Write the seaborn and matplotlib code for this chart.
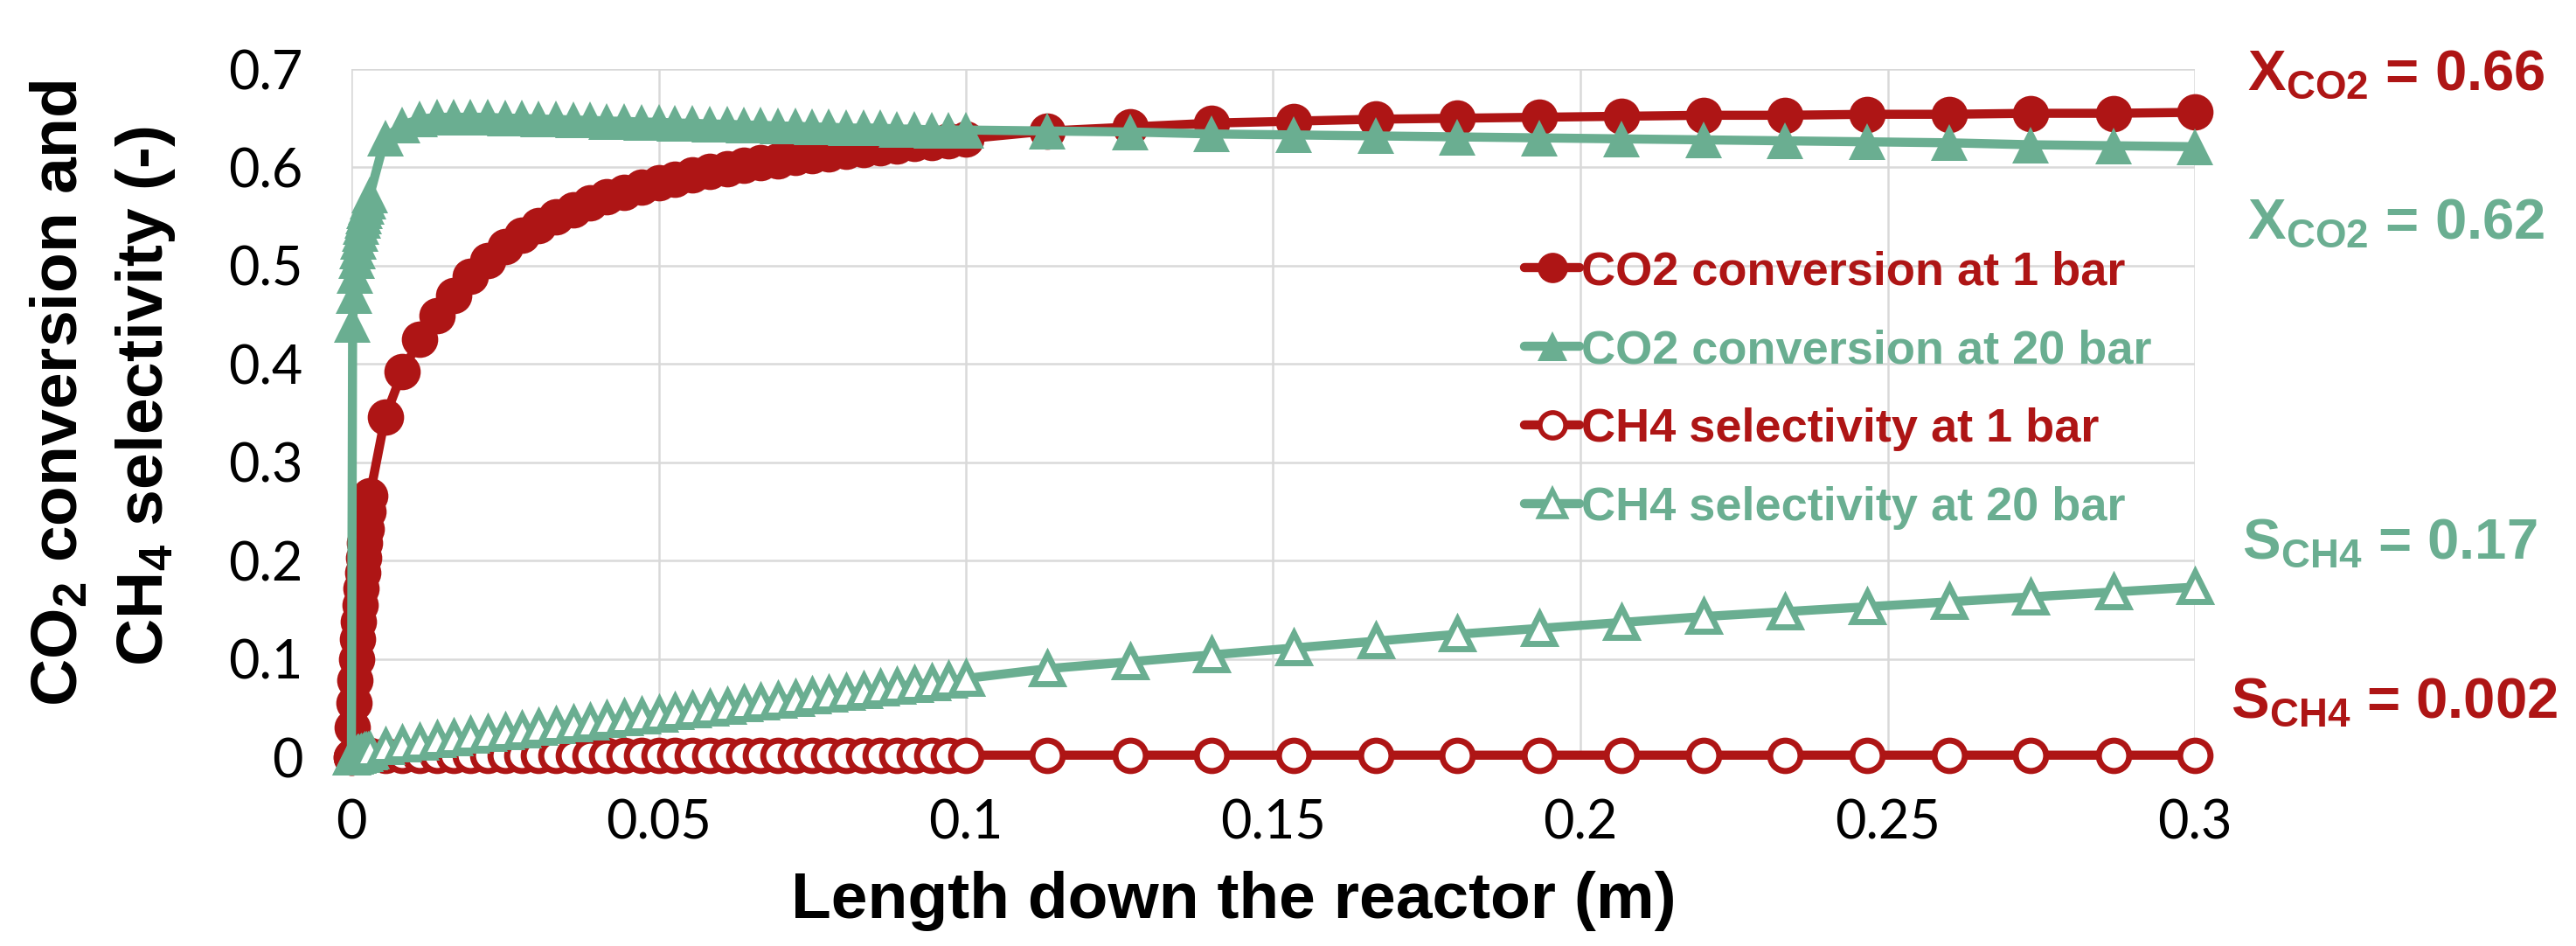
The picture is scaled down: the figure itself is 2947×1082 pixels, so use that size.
import matplotlib
matplotlib.use("Agg")
import matplotlib.pyplot as plt
import seaborn as sns
from matplotlib.lines import Line2D

# ---------------- data ----------------
# reactor length grid (m): very fine near the inlet, then two uniform segments
x_fine = [0.0000, 0.0002, 0.0004, 0.0006, 0.0008, 0.0010, 0.0012, 0.0014,
          0.0016, 0.0018, 0.0020, 0.0022, 0.0024, 0.0027, 0.0030]
x_mid = [0.0055, 0.0083, 0.0111, 0.0139, 0.0166, 0.0194, 0.0222, 0.0250,
         0.0277, 0.0305, 0.0333, 0.0361, 0.0388, 0.0416, 0.0444, 0.0472,
         0.0500, 0.0527, 0.0555, 0.0583, 0.0611, 0.0638, 0.0666, 0.0694,
         0.0722, 0.0750, 0.0777, 0.0805, 0.0833, 0.0861, 0.0888, 0.0916,
         0.0944, 0.0972, 0.1000]
x_coarse = [0.1133, 0.1267, 0.1400, 0.1533, 0.1667, 0.1800, 0.1933, 0.2067,
            0.2200, 0.2333, 0.2467, 0.2600, 0.2733, 0.2867, 0.3000]
length_m = x_fine + x_mid + x_coarse

# CO2 conversion at 1 bar
conv_1bar = ([0.000, 0.030, 0.055, 0.078, 0.100, 0.120, 0.138, 0.155, 0.172,
              0.188, 0.203, 0.218, 0.232, 0.250, 0.266]
             + [0.346, 0.392, 0.425, 0.449, 0.470, 0.489, 0.505, 0.519, 0.531,
                0.541, 0.550, 0.557, 0.564, 0.570, 0.575, 0.580, 0.584, 0.588,
                0.592, 0.596, 0.599, 0.602, 0.605, 0.607, 0.610, 0.612, 0.614,
                0.616, 0.618, 0.620, 0.622, 0.624, 0.625, 0.627, 0.629]
             + [0.637, 0.641, 0.645, 0.647, 0.649, 0.650, 0.651, 0.652, 0.653,
                0.653, 0.654, 0.654, 0.655, 0.655, 0.656])

# CO2 conversion at 20 bar
conv_20bar = ([0.000, 0.440, 0.470, 0.490, 0.505, 0.515, 0.525, 0.533, 0.540,
               0.546, 0.551, 0.556, 0.560, 0.566, 0.572]
              + [0.630, 0.643, 0.649, 0.651, 0.651, 0.651, 0.651, 0.650, 0.650,
                 0.649, 0.649, 0.648, 0.648, 0.647, 0.647, 0.646, 0.646, 0.645,
                 0.645, 0.644, 0.644, 0.643, 0.643, 0.642, 0.642, 0.641, 0.641,
                 0.640, 0.640, 0.640, 0.639, 0.639, 0.638, 0.638, 0.638]
              + [0.637, 0.636, 0.634, 0.633, 0.632, 0.631, 0.630, 0.629, 0.628,
                 0.627, 0.626, 0.625, 0.623, 0.622, 0.621])

# CH4 selectivity at 1 bar
sel_1bar = ([0.000, 0.001, 0.001, 0.001, 0.001, 0.001, 0.001, 0.001, 0.001,
             0.001, 0.002, 0.002, 0.002, 0.002, 0.002]
            + [0.002] * 35
            + [0.002] * 15)

# CH4 selectivity at 20 bar
sel_20bar = ([0.000, 0.001, 0.001, 0.002, 0.002, 0.003, 0.003, 0.003, 0.004,
              0.004, 0.004, 0.005, 0.005, 0.005, 0.006]
             + [0.011, 0.013, 0.015, 0.018, 0.020, 0.022, 0.024, 0.026, 0.028,
                0.030, 0.032, 0.034, 0.036, 0.038, 0.040, 0.042, 0.044, 0.046,
                0.048, 0.050, 0.052, 0.054, 0.056, 0.058, 0.060, 0.062, 0.064,
                0.066, 0.068, 0.070, 0.072, 0.074, 0.076, 0.078, 0.080]
             + [0.090, 0.097, 0.104, 0.111, 0.118, 0.125, 0.131, 0.137, 0.143,
                0.148, 0.153, 0.158, 0.163, 0.168, 0.173])

series_labels = ["CO2 conversion at 1 bar", "CO2 conversion at 20 bar",
                 "CH4 selectivity at 1 bar", "CH4 selectivity at 20 bar"]
x_ticks = [0, 0.05, 0.1, 0.15, 0.2, 0.25, 0.3]
x_tick_labels = ["0", "0.05", "0.1", "0.15", "0.2", "0.25", "0.3"]
y_ticks = [0, 0.1, 0.2, 0.3, 0.4, 0.5, 0.6, 0.7]
y_tick_labels = ["0", "0.1", "0.2", "0.3", "0.4", "0.5", "0.6", "0.7"]
end_labels = [r"X$_{CO2}$ = 0.66", r"X$_{CO2}$ = 0.62",
              r"S$_{CH4}$ = 0.17", r"S$_{CH4}$ = 0.002"]

# ---------------- style ----------------
RED = "#AE1515"
GREEN = "#6AAE91"
GRID = "#D9D9D9"
BOLD_FONT = "Liberation Sans"

sns.set_theme(style="white")
plt.rcParams["font.family"] = ["Lato", "DejaVu Sans"]
plt.rcParams["mathtext.fontset"] = "custom"
plt.rcParams["mathtext.rm"] = "Liberation Sans"
plt.rcParams["mathtext.bf"] = "Liberation Sans:bold"
plt.rcParams["mathtext.default"] = "bf"

W, H = 2947, 1082
fig = plt.figure(figsize=(W / 100, H / 100), dpi=100)
ax = fig.add_axes([402 / W, 216 / H, 2109 / W, 787 / H])

LW = 7.5
MS = 30


def draw(y, color, marker, filled):
    if filled:
        kw = dict(markersize=MS, markerfacecolor=color, markeredgecolor=color,
                  markeredgewidth=0)
    else:
        kw = dict(markersize=MS - 5, markerfacecolor="white",
                  markeredgecolor=color, markeredgewidth=5)
    sns.lineplot(x=length_m, y=y, ax=ax, color=color, linewidth=LW,
                 marker=marker, sort=False, estimator=None, legend=False,
                 clip_on=False, solid_joinstyle="round", **kw)


draw(conv_1bar, RED, "o", True)
draw(sel_1bar, RED, "o", False)
draw(conv_20bar, GREEN, "^", True)
draw(sel_20bar, GREEN, "^", False)

ax.set_xlim(0, 0.3)
ax.set_ylim(0, 0.7)
ax.set_xticks(x_ticks)
ax.set_xticklabels(x_tick_labels)
ax.set_yticks(y_ticks)
ax.set_yticklabels(y_tick_labels)
ax.grid(True, color=GRID, linewidth=1.8)
ax.set_axisbelow(True)
for s in ax.spines.values():
    s.set_visible(False)
ax.tick_params(axis="both", length=0, labelsize=44, colors="black",
               labelcolor="black")
ax.tick_params(axis="y", pad=40)
ax.tick_params(axis="x", pad=34)
for t in ax.get_xticklabels() + ax.get_yticklabels():
    t.set_fontweight("normal")
    t.set_color("black")

ax.set_xlabel("Length down the reactor (m)", fontsize=54, fontweight="bold",
              color="black", family=BOLD_FONT)
ax.xaxis.set_label_coords(0.4785, -0.165)
ax.set_ylabel("")

fig.text(68 / W, 1 - 450 / H, r"CO$_2$ conversion and", rotation=90,
         ha="center", va="center", fontsize=54, fontweight="bold",
         family=BOLD_FONT, color="black")
fig.text(167 / W, 1 - 453 / H, r"CH$_4$ selectivity (-)", rotation=90,
         ha="center", va="center", fontsize=54, fontweight="bold",
         family=BOLD_FONT, color="black")

# legend
handles = [
    Line2D([0], [0], color=RED, lw=LW, marker="o", markersize=25,
           markerfacecolor=RED, markeredgewidth=0),
    Line2D([0], [0], color=GREEN, lw=LW, marker="^", markersize=25,
           markerfacecolor=GREEN, markeredgewidth=0),
    Line2D([0], [0], color=RED, lw=LW, marker="o", markersize=21,
           markerfacecolor="white", markeredgecolor=RED, markeredgewidth=4),
    Line2D([0], [0], color=GREEN, lw=LW, marker="^", markersize=21,
           markerfacecolor="white", markeredgecolor=GREEN, markeredgewidth=4),
]
leg = fig.legend(handles, series_labels, loc="upper left",
                 bbox_to_anchor=(1744 / W, 1 - 286 / H), frameon=False,
                 borderpad=0, borderaxespad=0, handlelength=1.17,
                 handletextpad=0.03, labelspacing=0.74,
                 prop={"family": BOLD_FONT, "weight": "bold", "size": 39})
for txt, c in zip(leg.get_texts(), [RED, GREEN, RED, GREEN]):
    txt.set_color(c)

# end-value annotations
ann = [(2571, 103, RED), (2571, 273, GREEN), (2565, 639, GREEN), (2552, 821, RED)]
for (px, py, c), s in zip(ann, end_labels):
    fig.text(px / W, 1 - py / H, s, ha="left", va="baseline", fontsize=47,
             fontweight="bold", color=c, family=BOLD_FONT)

fig.savefig("out.png", dpi=100)
